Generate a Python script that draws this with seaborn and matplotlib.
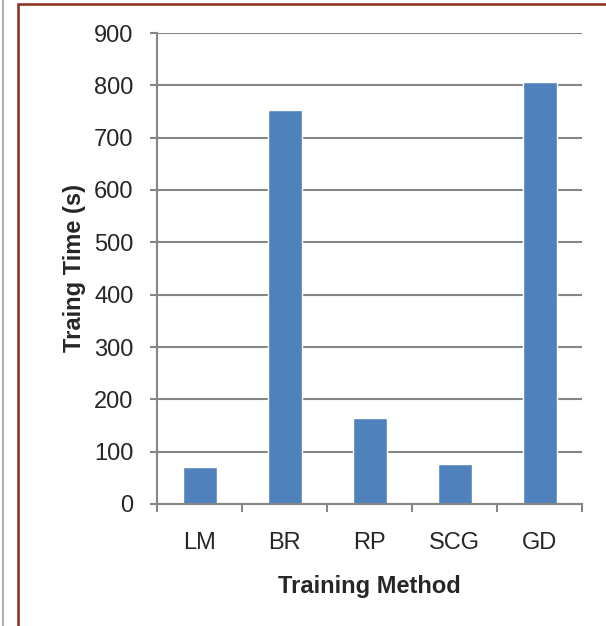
import numpy as np
import matplotlib
matplotlib.use('Agg')
import matplotlib.pyplot as plt
import seaborn as sns
from matplotlib.patches import Rectangle
from matplotlib.lines import Line2D

# data
methods = ["LM", "BR", "RP", "SCG", "GD"]
train_time = [70, 752, 165, 77, 806]
y_ticks = [0, 100, 200, 300, 400, 500, 600, 700, 800, 900]

sns.set_theme(style="white")
plt.rcParams['font.family'] = ['Liberation Sans', 'DejaVu Sans']

grid_col = "#868686"
bar_col = "#4F81BD"

fig = plt.figure(figsize=(6.06, 6.26), dpi=100)
fig.patch.set_facecolor("white")

# page decorations: gray line at left and dark red frame
fig.add_artist(Line2D([3 / 606, 3 / 606], [0, 1], color="#A0A0A0", lw=1.2,
                      transform=fig.transFigure))
fig.add_artist(Rectangle((18 / 606, -0.05), 1.0, 1 - 4 / 626 + 0.05,
                         transform=fig.transFigure, fill=False,
                         edgecolor="#8B2A1F", lw=1.8))

ax = fig.add_axes([157 / 606, 1 - 504 / 626, 425 / 606, 471 / 626])
sns.barplot(x=methods, y=train_time, color=bar_col, saturation=1,
            width=0.4, ax=ax)

ax.set_ylim(0, 900)
ax.set_xlim(-0.5, len(methods) - 0.5)
ax.set_yticks(y_ticks)
ax.yaxis.grid(True, color=grid_col, lw=1.5)
ax.set_axisbelow(True)

for s in ["top", "right"]:
    ax.spines[s].set_visible(False)
for s in ["left", "bottom"]:
    ax.spines[s].set_color(grid_col)
    ax.spines[s].set_linewidth(1.5)

ax.tick_params(axis="y", which="major", direction="out", length=5,
               width=1.5, color=grid_col, labelsize=17, pad=12, left=True)
ax.tick_params(axis="x", which="major", length=0, labelsize=17, pad=20)
ax.set_xticks(np.arange(-0.5, len(methods), 1), minor=True)
ax.tick_params(axis="x", which="minor", direction="out", length=6,
               width=1.5, color=grid_col, bottom=True)

ax.set_xlabel("Training Method", fontsize=17, fontweight="bold", labelpad=15)
ax.set_ylabel("Traing Time (s)", fontsize=17, fontweight="bold", labelpad=6)

fig.savefig("out.png", dpi=100, facecolor="white")
